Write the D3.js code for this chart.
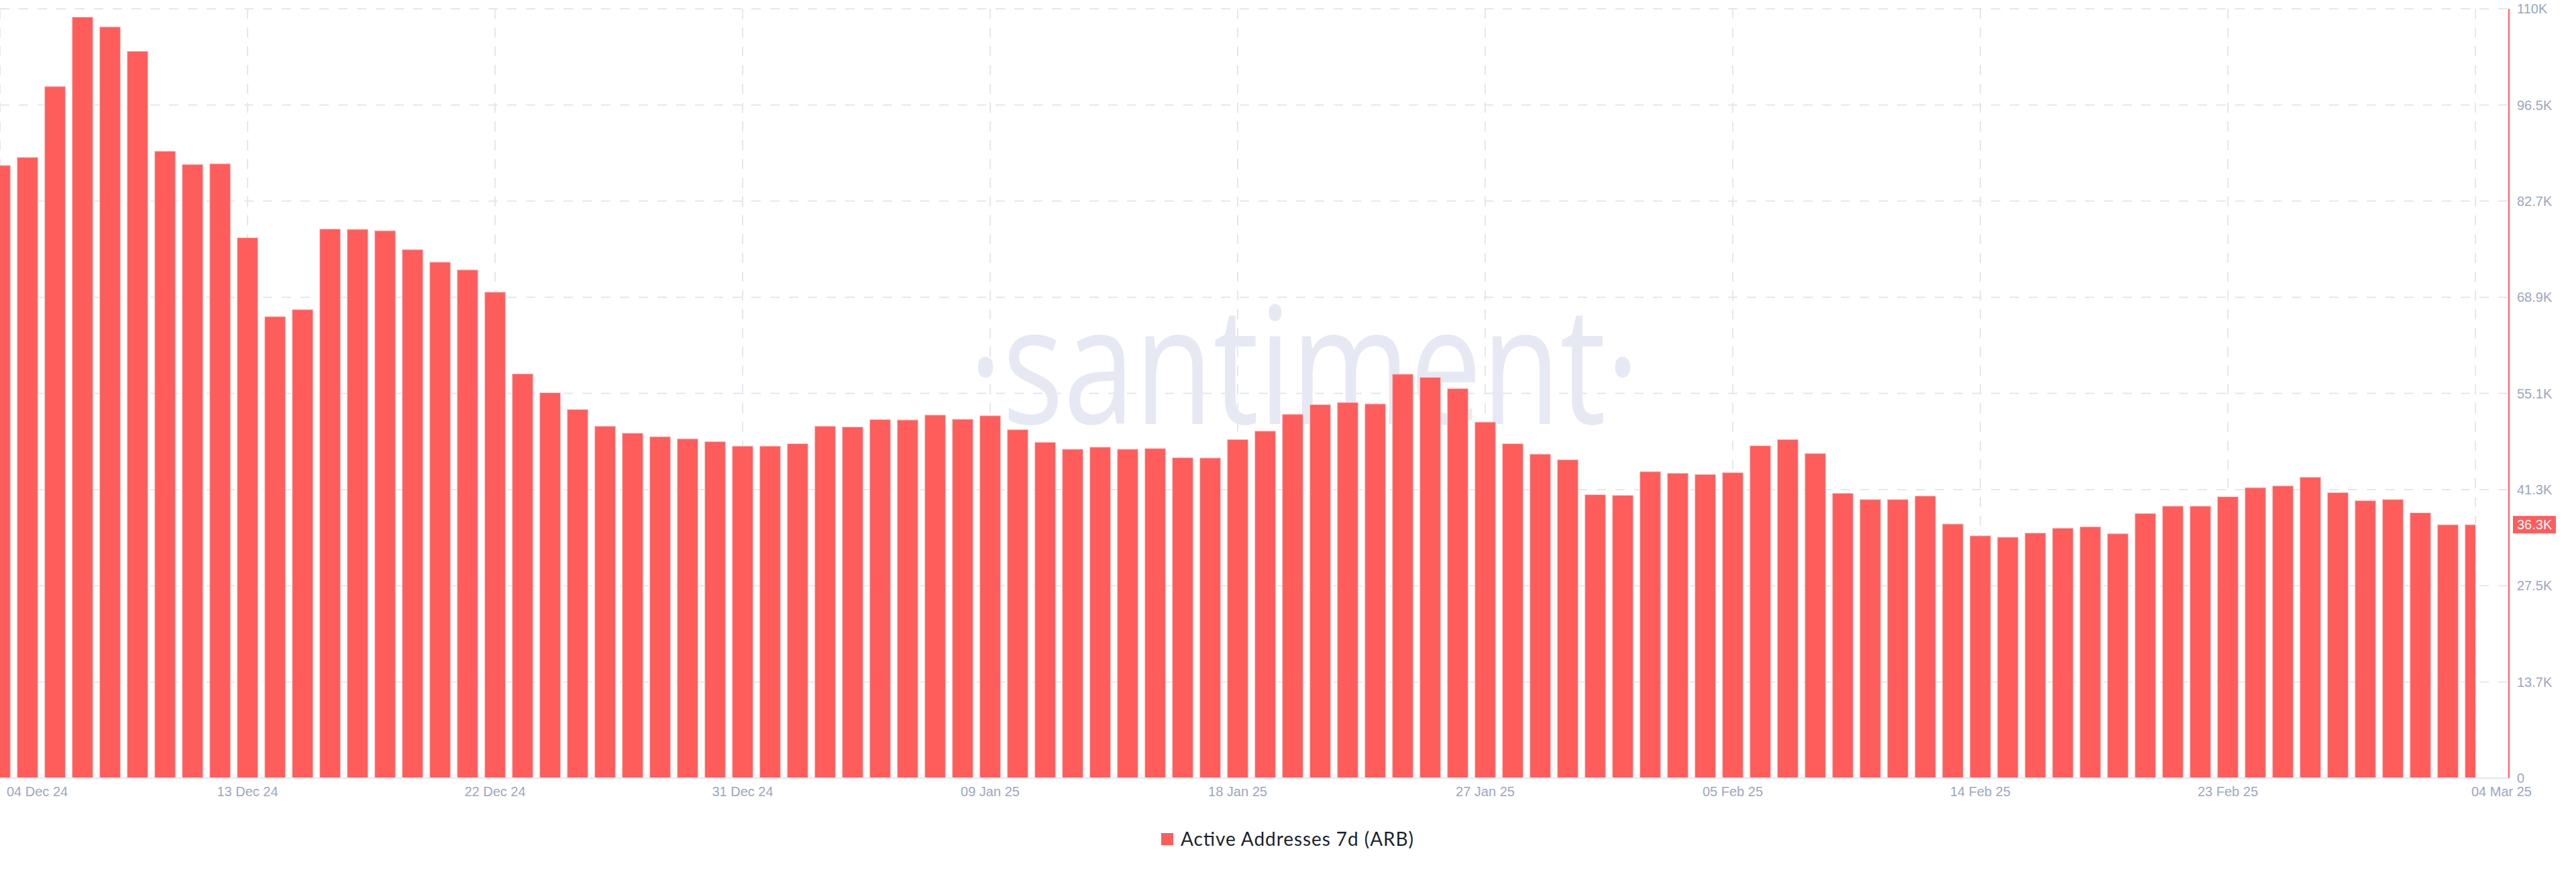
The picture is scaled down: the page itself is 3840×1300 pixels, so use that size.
<!DOCTYPE html>
<html>
<head>
<meta charset="utf-8">
<script src="https://cdn.jsdelivr.net/npm/d3@7/dist/d3.min.js"></script>
<style>
  html, body { margin: 0; padding: 0; background: #ffffff; }
  svg { display: block; }
</style>
</head>
<body>
<svg id="chart" width="3840" height="1300"></svg>
<script>
// ---------------- DATA ----------------
const startDate = "2024-12-04";
// Active Addresses 7d (ARB), daily, 04 Dec 2024 .. 04 Mar 2025 (thousands)
const activeAddressesK = [
  87.75, 88.9, 99.06, 109.0, 107.6, 104.1, 89.8, 87.9, 88.0, 77.4,
  66.1, 67.1, 78.65, 78.6, 78.4, 75.7, 73.9, 72.8, 69.6, 57.9,
  55.2, 52.8, 50.4, 49.4, 48.9, 48.6, 48.2, 47.55, 47.55, 47.9,
  50.4, 50.3, 51.35, 51.3, 52.0, 51.4, 51.9, 49.9, 48.1, 47.1,
  47.4, 47.1, 47.2, 45.9, 45.85, 48.5, 49.7, 52.1, 53.5, 53.8,
  53.6, 57.85, 57.4, 55.8, 51.0, 47.9, 46.4, 45.6, 40.6, 40.5,
  43.9, 43.66, 43.5, 43.75, 47.6, 48.5, 46.5, 40.8, 39.9, 39.9,
  40.4, 36.4, 34.7, 34.5, 35.1, 35.8, 36.0, 35.0, 37.9, 38.95,
  38.95, 40.3, 41.6, 41.86, 43.1, 40.9, 39.75, 39.9, 38.0, 36.3,
  36.3
];
const xTickLabels = ["04 Dec 24","13 Dec 24","22 Dec 24","31 Dec 24","09 Jan 25",
  "18 Jan 25","27 Jan 25","05 Feb 25","14 Feb 25","23 Feb 25","04 Mar 25"];
const xTickEveryDays = 9;
const yMax = 110200;
const yTickLabels = ["0","13.7K","27.5K","41.3K","55.1K","68.9K","82.7K","96.5K","110K"];
const seriesName = "Active Addresses 7d (ARB)";
const lastValueLabel = "36.3K";

// ---------------- STYLE ----------------
const barColor = "#ff5c5c";
const gridColor = "#e4e7f1";
const axisTextColor = "#9ba6c4";
const fontAxis = "'Liberation Sans', Arial, Helvetica, sans-serif";

// ---------------- LAYOUT ----------------
const svg = d3.select("#chart");
const plotLeft = 0, plotRight = 3690, axisX = 3740;
const plotTop = 13, plotBottom = 1160;

const t0 = d3.utcParse("%Y-%m-%d")(startDate);
const dates = activeAddressesK.map((v, i) => d3.utcDay.offset(t0, i));
const data = dates.map((d, i) => ({ date: d, value: activeAddressesK[i] * 1000 }));

const x = d3.scaleUtc()
  .domain([dates[0], dates[dates.length - 1]])
  .range([plotLeft, plotRight]);
const y = d3.scaleLinear().domain([0, yMax]).range([plotBottom, plotTop]);

const step = x(dates[1]) - x(dates[0]);
const barW = step * 0.75;

// clip for bars
svg.append("defs").append("clipPath").attr("id", "barclip")
  .append("rect")
  .attr("x", plotLeft).attr("y", 0)
  .attr("width", plotRight - plotLeft).attr("height", plotBottom);

// ---------------- GRID ----------------
const yTicks = yTickLabels.map((l, i) => yMax * i / (yTickLabels.length - 1));
const xTickDates = xTickLabels.map((l, i) => d3.utcDay.offset(t0, i * xTickEveryDays));

const grid = svg.append("g");
grid.selectAll("line.h").data(yTicks.slice(1)).join("line")
  .attr("x1", plotLeft).attr("x2", axisX)
  .attr("y1", d => y(d)).attr("y2", d => y(d))
  .attr("stroke", gridColor).attr("stroke-width", 2)
  .attr("stroke-dasharray", "14,14");
grid.selectAll("line.v").data(xTickDates).join("line")
  .attr("x1", d => x(d)).attr("x2", d => x(d))
  .attr("y1", plotTop).attr("y2", plotBottom)
  .attr("stroke", gridColor).attr("stroke-width", 2)
  .attr("stroke-dasharray", "15,13");

// ---------------- WATERMARK ----------------
svg.append("text")
  .attr("x", 1944).attr("y", 632)
  .attr("text-anchor", "middle")
  .attr("font-family", "'Open Sans', 'Noto Sans', sans-serif")
  .attr("font-size", 243)
  .attr("textLength", 1000)
  .attr("lengthAdjust", "spacingAndGlyphs")
  .attr("fill", "#e6e9f3")
  .text("\u00B7santiment\u00B7");

// ---------------- BARS ----------------
svg.append("g").attr("clip-path", "url(#barclip)")
  .selectAll("rect").data(data).join("rect")
  .attr("x", d => x(d.date) - barW / 2)
  .attr("y", d => y(d.value))
  .attr("width", barW)
  .attr("height", d => y(0) - y(d.value))
  .attr("fill", barColor)
  .attr("stroke", "#ffc4c4")
  .attr("stroke-width", 1);

// ---------------- AXES ----------------
svg.append("line")
  .attr("x1", plotLeft).attr("x2", axisX)
  .attr("y1", y(0)).attr("y2", y(0))
  .attr("stroke", "#e3e6f0").attr("stroke-width", 2);

svg.append("line")
  .attr("x1", axisX).attr("x2", axisX)
  .attr("y1", plotTop).attr("y2", plotBottom)
  .attr("stroke", barColor).attr("stroke-width", 2);

svg.append("g").selectAll("text").data(yTicks).join("text")
  .attr("x", axisX + 12)
  .attr("y", d => y(d))
  .attr("dy", "0.36em")
  .attr("font-family", fontAxis)
  .attr("font-size", 20)
  .attr("fill", axisTextColor)
  .text((d, i) => yTickLabels[i]);

const lastVal = data[data.length - 1].value;
const tag = svg.append("g");
tag.append("rect")
  .attr("x", axisX + 6).attr("y", y(lastVal) - 13)
  .attr("width", 64).attr("height", 26)
  .attr("fill", barColor);
tag.append("text")
  .attr("x", axisX + 12).attr("y", y(lastVal))
  .attr("dy", "0.36em")
  .attr("font-family", fontAxis)
  .attr("font-size", 20)
  .attr("fill", "#ffffff")
  .text(lastValueLabel);

const nX = xTickLabels.length;
svg.append("g").selectAll("text").data(xTickDates).join("text")
  .attr("x", (d, i) => i === 0 ? x(d) + 10 : (i === nX - 1 ? x(d) + 84 : x(d)))
  .attr("y", 1187)
  .attr("text-anchor", (d, i) => i === 0 ? "start" : (i === nX - 1 ? "end" : "middle"))
  .attr("font-family", fontAxis)
  .attr("font-size", 20)
  .attr("fill", axisTextColor)
  .text((d, i) => xTickLabels[i]);

// ---------------- LEGEND ----------------
const legend = svg.append("g");
legend.append("rect")
  .attr("x", 1731).attr("y", 1242)
  .attr("width", 18).attr("height", 18)
  .attr("fill", barColor);
legend.append("text")
  .attr("x", 1760).attr("y", 1261)
  .attr("font-family", "Lato, 'Noto Sans', sans-serif")
  .attr("font-size", 28)
  .attr("textLength", 347)
  .attr("lengthAdjust", "spacing")
  .attr("fill", "#1b1f2e")
  .text(seriesName);
</script>
</body>
</html>
